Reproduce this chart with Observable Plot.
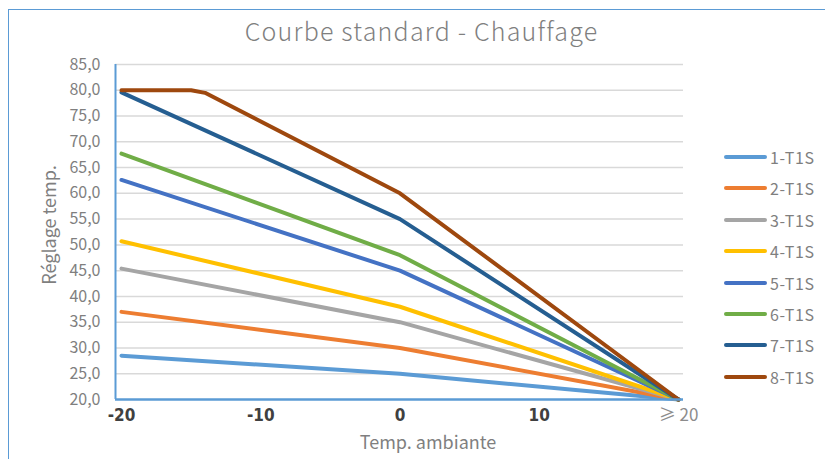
<!DOCTYPE html>
<html>
<head>
<meta charset="utf-8">
<script src="https://cdn.jsdelivr.net/npm/d3@7"></script>
<script src="https://cdn.jsdelivr.net/npm/@observablehq/plot@0.6"></script>
<style>
  html, body { margin: 0; padding: 0; background: #fff; }
  #wrap { position: relative; width: 825px; height: 459px; overflow: hidden; background: #fff;
          font-family: "Noto Sans CJK SC", "Noto Sans", sans-serif; }
  #frame { position: absolute; left: 8px; top: 9px; width: 900px; height: 500px;
           border-left: 1.5px solid #5b9bd5; border-top: 1.5px solid #5b9bd5; }
  #title { position: absolute; left: 0; width: 843px; top: 12px; text-align: center;
           font-size: 25px; font-weight: 300; letter-spacing: 1.2px; color: #7f7f7f; }
  #ytitle { position: absolute; left: 48px; top: 225px; transform: translate(-50%, -50%) rotate(-90deg);
            font-size: 18px; color: #7f7f7f; white-space: nowrap; }
  #xtitle { position: absolute; left: 428px; top: 441px; transform: translate(-50%, -50%);
            font-size: 18px; color: #7f7f7f; white-space: nowrap; }
  #legend { position: absolute; left: 724px; top: 0; }
  .li { position: absolute; left: 0; height: 20px; display: flex; align-items: center; white-space: nowrap; }
  .sw { width: 43px; height: 4px; border-radius: 2px; margin-right: 3px; }
  .lt { font-size: 16px; letter-spacing: 0.6px; color: #7f7f7f; }
  #chart { position: absolute; left: 0; top: 0; }
</style>
</head>
<body>
<div id="wrap">
  <div id="frame"></div>
  <div id="chart"></div>
  <div id="title">Courbe standard - Chauffage</div>
  <div id="ytitle">Réglage temp.</div>
  <div id="xtitle">Temp. ambiante</div>
  <div id="legend"></div>
</div>
<script>
// ---- data ----
const seriesNames = ["1-T1S", "2-T1S", "3-T1S", "4-T1S", "5-T1S", "6-T1S", "7-T1S", "8-T1S"];
const seriesColors = ["#5b9bd5", "#ed7d31", "#a5a5a5", "#ffc000", "#4472c4", "#70ad47", "#255e91", "#9e480e"];
const xCommon = [-20, 0, 20];
const s1 = [28.5, 25, 20];
const s2 = [37.0, 30, 20];
const s3 = [45.4, 35, 20];
const s4 = [50.7, 38, 20];
const s5 = [62.6, 45, 20];
const s6 = [67.7, 48, 20];
const s7 = [79.6, 55, 20];
const x8 = [-20, -15, -14, 0, 20];
const s8 = [80, 80, 79.5, 60, 20];
const yTicks = [20, 25, 30, 35, 40, 45, 50, 55, 60, 65, 70, 75, 80, 85];
const xTicksMain = [-20, -10, 0, 10];
const xTickLast = [20];
const xTickLastLabel = "≥ 20";

// ---- build table ----
const seriesX = [xCommon, xCommon, xCommon, xCommon, xCommon, xCommon, xCommon, x8];
const seriesY = [s1, s2, s3, s4, s5, s6, s7, s8];
const rows = [];
seriesNames.forEach((name, i) => {
  seriesY[i].forEach((v, j) => rows.push({series: name, x: seriesX[i][j], y: v}));
});

const fmtY = d => d.toFixed(1).replace(".", ",");

const chart = Plot.plot({
  width: 825,
  height: 459,
  marginLeft: 115,
  marginRight: 142,
  marginTop: 64,
  marginBottom: 60,
  style: {background: "transparent", overflow: "visible"},
  x: {domain: [-20.43, 20.36]},
  y: {domain: [20, 85]},
  color: {domain: seriesNames, range: seriesColors},
  marks: [
    Plot.gridY(yTicks.filter(d => d > 20), {stroke: "#d9d9d9", strokeOpacity: 1, strokeWidth: 1.5}),
    Plot.axisY(yTicks, {tickSize: 0, tickPadding: 15, tickFormat: fmtY, fontSize: 16, fill: "#7f7f7f",
      fontFamily: "'Noto Sans CJK SC', 'Noto Sans', sans-serif", label: null}),
    Plot.axisX(xTicksMain, {tickSize: 0, tickPadding: 9, fontSize: 17, fontWeight: "bold", fill: "#404040",
      tickFormat: d => String(d),
      fontFamily: "'Liberation Sans Narrow', 'DejaVu Sans Condensed', 'Liberation Sans', sans-serif", label: null}),
    Plot.axisX(xTickLast, {tickSize: 0, tickPadding: 9, fontSize: 17, fill: "#8c8c8c",
      tickFormat: () => xTickLastLabel,
      fontFamily: "'Noto Sans CJK SC', 'Noto Sans', sans-serif", label: null}),
    Plot.line(rows, {x: "x", y: "y", z: "series", stroke: "series", strokeWidth: 4,
      strokeLinejoin: "round", strokeLinecap: "round"}),
    Plot.ruleX([-20.43], {stroke: "#5b9bd5", strokeWidth: 2}),
    Plot.ruleY([20], {stroke: "#5b9bd5", strokeWidth: 2.5})
  ]
});
document.getElementById("chart").appendChild(chart);

// ---- legend ----
const legend = document.getElementById("legend");
const legendTop = 147;
const legendStep = 31.4;
seriesNames.forEach((name, i) => {
  const item = document.createElement("div");
  item.className = "li";
  item.style.top = (legendTop + i * legendStep) + "px";
  item.innerHTML = `<div class="sw" style="background:${seriesColors[i]}"></div><span class="lt">${name}</span>`;
  legend.appendChild(item);
});
</script>
</body>
</html>
